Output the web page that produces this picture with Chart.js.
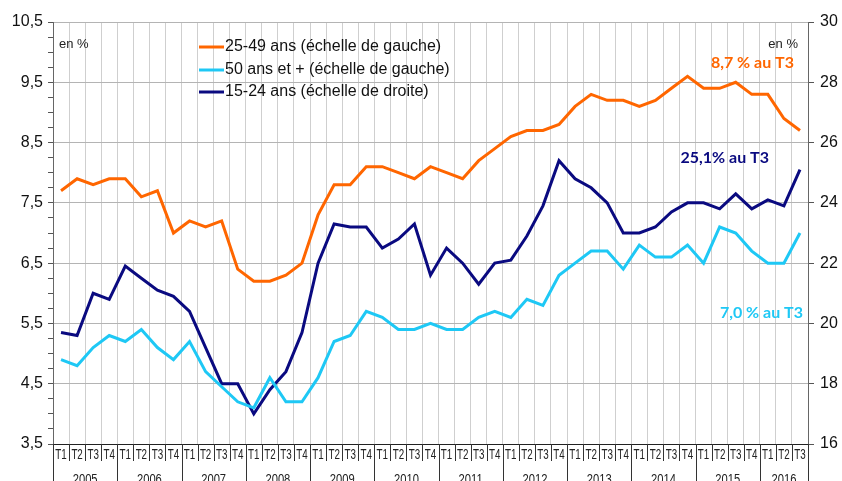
<!DOCTYPE html>
<html lang="fr">
<head>
<meta charset="utf-8">
<title>Taux de chômage par âge</title>
<script src="https://cdn.jsdelivr.net/npm/chart.js@4.4.1/dist/chart.umd.min.js"></script>
<style>
  html, body { margin: 0; padding: 0; background: #fff; }
  #wrap { width: 842px; height: 481px; }
</style>
</head>
<body>
<div id="wrap"><canvas id="chart" width="842" height="481"></canvas></div>
<script>
// données (trimestres 2005 T1 -> 2016 T3)
const years = ["2005", "2006", "2007", "2008", "2009", "2010", "2011", "2012", "2013", "2014", "2015", "2016"];
const quarters = ["T1", "T2", "T3", "T4"];
const nbPoints = 47;

const age2549 = [7.7, 7.9, 7.8, 7.9, 7.9, 7.6, 7.7, 7.0, 7.2, 7.1, 7.2, 6.4,
  6.2, 6.2, 6.3, 6.5, 7.3, 7.8, 7.8, 8.1, 8.1, 8.0, 7.9, 8.1,
  8.0, 7.9, 8.2, 8.4, 8.6, 8.7, 8.7, 8.8, 9.1, 9.3, 9.2, 9.2,
  9.1, 9.2, 9.4, 9.6, 9.4, 9.4, 9.5, 9.3, 9.3, 8.9, 8.7];
const age50plus = [4.9, 4.8, 5.1, 5.3, 5.2, 5.4, 5.1, 4.9, 5.2, 4.7, 4.45, 4.2,
  4.1, 4.6, 4.2, 4.2, 4.6, 5.2, 5.3, 5.7, 5.6, 5.4, 5.4, 5.5,
  5.4, 5.4, 5.6, 5.7, 5.6, 5.9, 5.8, 6.3, 6.5, 6.7, 6.7, 6.4,
  6.8, 6.6, 6.6, 6.8, 6.5, 7.1, 7.0, 6.7, 6.5, 6.5, 7.0];
const age1524 = [19.7, 19.6, 21.0, 20.8, 21.9, 21.5, 21.1, 20.9, 20.4, 19.2, 18.0, 18.0,
  17.0, 17.8, 18.4, 19.7, 22.0, 23.3, 23.2, 23.2, 22.5, 22.8, 23.3, 21.6,
  22.5, 22.0, 21.3, 22.0, 22.1, 22.9, 23.9, 25.4, 24.8, 24.5, 24.0, 23.0,
  23.0, 23.2, 23.7, 24.0, 24.0, 23.8, 24.3, 23.8, 24.1, 23.9, 25.1];

const seriesNames = ["25-49 ans (échelle de gauche)", "50 ans et + (échelle de gauche)", "15-24 ans (échelle de droite)"];
const seriesColors = ["#ff6600", "#1ec8f5", "#0a0a80"];

// libellés de catégories
const categories = [];
years.forEach((y) => quarters.forEach((q) => {
  if (categories.length < nbPoints) categories.push(y + " " + q);
}));

const isMajor = (v) => {
  const r = (((v - 3.5) % 1) + 1) % 1;
  return r < 1e-6 || 1 - r < 1e-6;
};

// axe des x à deux niveaux, légende et annotations
const decorPlugin = {
  id: "decor",
  afterDraw(chart) {
    const ctx = chart.ctx;
    const x = chart.scales.x;
    const area = chart.chartArea;
    const step = x.getPixelForValue(1) - x.getPixelForValue(0);
    ctx.save();

    // séparateurs sous l'axe
    ctx.strokeStyle = "#333";
    ctx.lineWidth = 1;
    for (let i = 0; i <= nbPoints; i++) {
      const px = Math.round(x.getPixelForValue(i) - step / 2) + 0.5;
      const isYear = i % 4 === 0 || i === nbPoints;
      ctx.beginPath();
      ctx.moveTo(px, area.bottom);
      ctx.lineTo(px, isYear ? 481 : 461);
      ctx.stroke();
    }

    // T1..T4
    ctx.fillStyle = "#222";
    ctx.font = "14px 'Liberation Sans', Arial, sans-serif";
    ctx.textAlign = "center";
    ctx.textBaseline = "middle";
    categories.forEach((c, i) => {
      const px = x.getPixelForValue(i);
      ctx.save();
      ctx.translate(px, 455);
      ctx.scale(0.7, 1);
      ctx.fillText(quarters[i % 4], 0, 0);
      ctx.restore();
    });

    // années
    ctx.textBaseline = "alphabetic";
    ctx.font = "14px 'Liberation Sans', Arial, sans-serif";
    years.forEach((y, k) => {
      const first = k * 4;
      const last = Math.min(first + 3, nbPoints - 1);
      const px = (x.getPixelForValue(first) + x.getPixelForValue(last)) / 2;
      ctx.save();
      ctx.translate(px, 484);
      ctx.scale(0.8, 1);
      ctx.fillText(y, 0, 0);
      ctx.restore();
    });

    // légende
    ctx.textAlign = "left";
    ctx.textBaseline = "middle";
    ctx.font = "16px 'Liberation Sans', Arial, sans-serif";
    const rows = [47, 70, 92];
    chart.data.datasets.forEach((ds, i) => {
      ctx.strokeStyle = ds.borderColor;
      ctx.lineWidth = 3;
      ctx.beginPath();
      ctx.moveTo(199, rows[i]);
      ctx.lineTo(224, rows[i]);
      ctx.stroke();
      ctx.fillStyle = "#111";
      ctx.fillText(ds.label, 225, rows[i]);
    });

    // unités
    ctx.font = "13px 'Liberation Sans', Arial, sans-serif";
    ctx.fillStyle = "#222";
    ctx.fillText("en %", 59, 44);
    ctx.textAlign = "right";
    ctx.fillText("en %", 798, 44);

    // valeurs au T3 2016
    ctx.font = "bold 16px Lato, 'Open Sans', sans-serif";
    ctx.fillStyle = seriesColors[0];
    ctx.fillText("8,7 % au T3", 794, 63);
    ctx.fillStyle = seriesColors[2];
    ctx.fillText("25,1% au T3", 769, 158);
    ctx.fillStyle = seriesColors[1];
    ctx.fillText("7,0 % au T3", 803, 313);

    ctx.restore();
  }
};

const makeSet = (i, data, axis) => ({
  label: seriesNames[i],
  data: data,
  yAxisID: axis,
  borderColor: seriesColors[i],
  backgroundColor: seriesColors[i],
  borderWidth: 3,
  pointRadius: 0,
  tension: 0,
  fill: false
});

new Chart(document.getElementById("chart"), {
  type: "line",
  data: {
    labels: categories,
    datasets: [
      makeSet(0, age2549, "y"),
      makeSet(1, age50plus, "y"),
      makeSet(2, age1524, "y1")
    ]
  },
  options: {
    responsive: false,
    animation: false,
    layout: { padding: { top: 22, left: 0, right: 0, bottom: 0 } },
    plugins: { legend: { display: false }, tooltip: { enabled: false } },
    scales: {
      x: {
        type: "category",
        offset: true,
        grid: { offset: true, color: "#cfcfcf", drawTicks: false },
        border: { color: "#222" },
        ticks: { display: false, autoSkip: false },
        afterFit: (s) => { s.height = 37; }
      },
      y: {
        position: "left",
        min: 3.5,
        max: 10.5,
        grid: {
          color: (c) => isMajor(c.tick.value) ? "#b4b4b4" : "rgba(0,0,0,0)",
          tickColor: "#555",
          tickLength: 5
        },
        border: { color: "#666" },
        ticks: {
          stepSize: 0.25,
          autoSkip: false,
          padding: 5,
          color: "#111",
          font: { family: "'Liberation Sans', Arial, sans-serif", size: 16 },
          callback: (v) => isMajor(v) ? v.toFixed(1).replace(".", ",") : ""
        },
        afterFit: (s) => { s.width = 53; }
      },
      y1: {
        position: "right",
        min: 16,
        max: 30,
        grid: { drawOnChartArea: false, tickColor: "#555", tickLength: 6 },
        border: { color: "#666" },
        ticks: {
          stepSize: 2,
          padding: 6,
          color: "#111",
          font: { family: "'Liberation Sans', Arial, sans-serif", size: 16 }
        },
        afterFit: (s) => { s.width = 34; }
      }
    }
  },
  plugins: [decorPlugin]
});
</script>
</body>
</html>
